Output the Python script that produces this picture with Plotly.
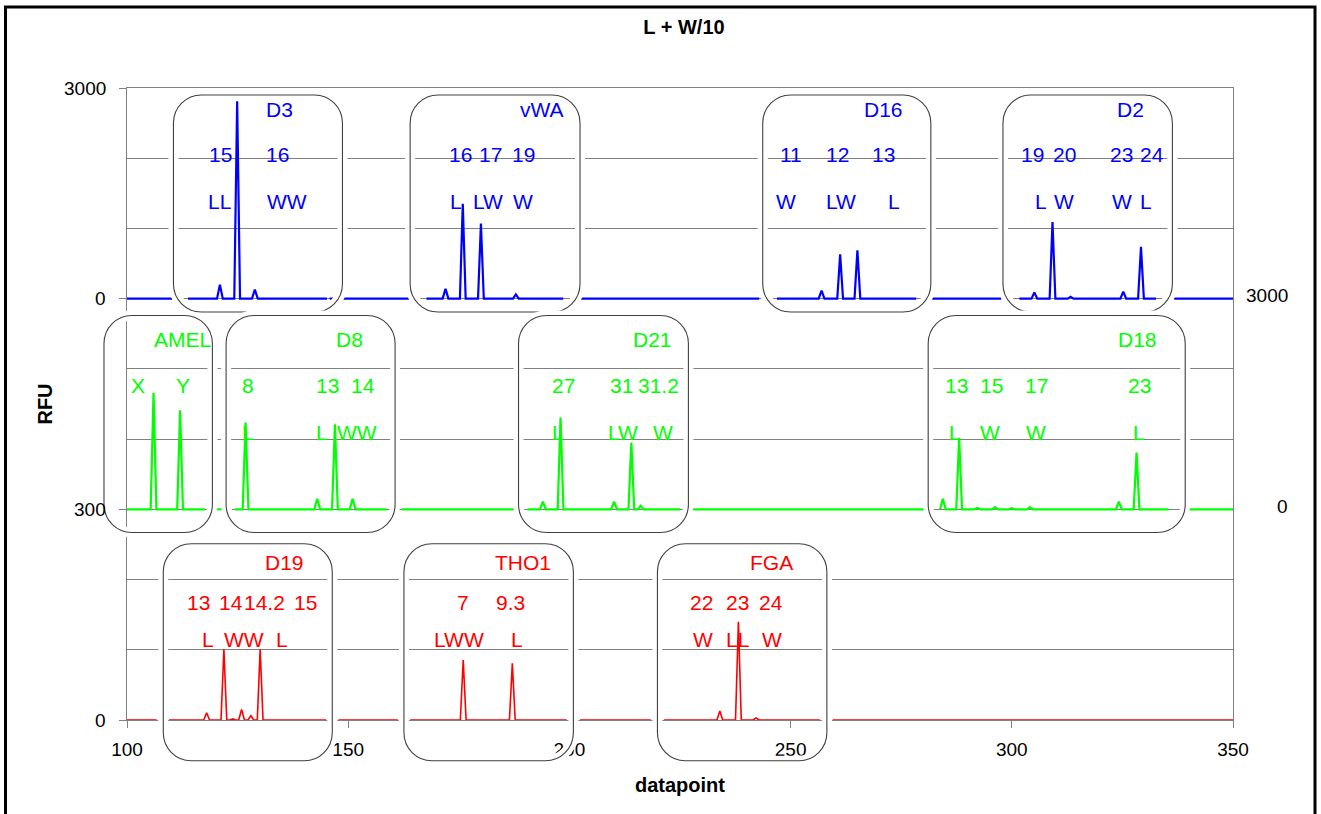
import plotly.graph_objects as go

# ---------------- data ----------------
# peak positions (datapoint) and heights (RFU) per dye lane
blue_peak_x = [121.0, 124.9, 128.9, 172.0, 175.9, 180.0, 187.9, 257.0, 261.2, 265.1,
               305.1, 309.2, 313.3, 325.2, 329.2]
blue_peak_h = [200, 2810, 130, 140, 1350, 1070, 60, 115, 630, 690,
               90, 1090, 25, 100, 740]

green_peak_x = [106.0, 112.0, 126.8, 143.0, 147.0, 151.0, 194.0, 198.0, 210.1, 214.0,
                216.1, 284.4, 288.1, 292.2, 296.2, 300.0, 304.1, 324.2, 328.2]
green_peak_h = [1660, 1410, 1235, 150, 1210, 150, 110, 1306, 110, 950,
                50, 150, 1020, 20, 30, 15, 30, 110, 807]

red_peak_x = [118.0, 121.9, 123.9, 125.9, 128.0, 130.1, 176.0, 187.1, 234.0, 238.2, 242.2]
red_peak_h = [10.4, 100.7, 1.5, 15, 6, 100.7, 85.4, 80.7, 12.8, 140, 3]

# visible trace segments (datapoint ranges) per lane
blue_segments = [(100, 110.2), (113.8, 145.2), (145.8, 163.9), (167.7, 198.6),
                 (202.4, 242.9), (246.9, 278.4), (282.0, 297.6), (301.7, 332.6), (336.7, 350)]
green_segments = [(100, 117.6), (119.3, 122.3), (124.4, 158.7), (162.1, 187.3),
                  (190.5, 225.0), (228.0, 280.4), (283.8, 335.4), (339.2, 350)]
red_segments = [(100, 106.7), (109.5, 145.0), (147.8, 161.2), (164.0, 199.4),
                (202.4, 218.4), (221.4, 256.6), (259.5, 350)]

# locus names
loci_blue = ["D3", "vWA", "D16", "D2"]
loci_green = ["AMEL", "D8", "D21", "D18"]
loci_red = ["D19", "THO1", "FGA"]

# labels: (text, datapoint)
blue_names = [("D3", 134.4), ("vWA", 193.7), ("D16", 271.1), ("D2", 326.8)]
blue_alleles = [("15", 121.2), ("16", 134.0), ("16", 175.3), ("17", 182.2), ("19", 189.7),
                ("11", 250.1), ("12", 260.6), ("13", 270.9),
                ("19", 304.6), ("20", 312.0), ("23", 324.8), ("24", 331.8)]
blue_calls = [("LL", 121.0), ("WW", 136.1), ("L", 174.4), ("LW", 181.7), ("W", 189.4),
              ("W", 248.9), ("LW", 261.4), ("L", 273.4),
              ("L", 306.6), ("W", 311.8), ("W", 324.8), ("L", 330.3)]

green_names = [("AMEL", 112.5), ("D8", 150.2), ("D21", 218.8), ("D18", 328.4)]
green_alleles = [("X", 102.4), ("Y", 112.6), ("8", 127.4), ("13", 145.4), ("14", 153.4),
                 ("27", 198.6), ("31", 211.8), ("31.2", 220.2),
                 ("13", 287.4), ("15", 295.5), ("17", 305.6), ("23", 328.8)]
green_calls = [("L", 127.4), ("L", 144.0), ("WW", 152.1),
               ("L", 197.5), ("LW", 212.2), ("W", 221.1),
               ("L", 287.2), ("W", 295.1), ("W", 305.5), ("L", 328.8)]

red_names = [("D19", 135.7), ("THO1", 189.6), ("FGA", 245.6)]
red_alleles = [("13", 116.1), ("14", 123.5), ("14.2", 131.0), ("15", 140.4),
               ("7", 176.0), ("9.3", 186.6),
               ("22", 229.9), ("23", 238.0), ("24", 245.5)]
red_calls = [("L", 118.2), ("WW", 126.5), ("L", 135.1),
             ("LWW", 175.1), ("L", 188.2),
             ("W", 230.1), ("LL", 238.0), ("W", 245.7)]

# left axis labels (value units, text); right axis labels
y_tick_vals = [0, 3, 6, 9]
y_tick_text = ["0", "300", "0", "3000"]
y_right_vals = [6, 3]
y_right_text = ["3000", "0"]
x_tick_vals = [100, 150, 200, 250, 300, 350]

# ---------------- layout constants ----------------
FONT = "Liberation Sans, Arial, sans-serif"
BLUE, GREEN, RED = "#0000FF", "#00FF00", "#FF0000"
W = 0.65  # half width of a peak in datapoints
XR = (100, 350)
YR = (0, 9)
ML, MR, MT, MB = 127, 88, 88, 94
FW, FH = 1321, 814
PW, PH = FW - ML - MR, FH - MT - MB

lanes = [
    dict(px=blue_peak_x, ph=blue_peak_h, seg=blue_segments, base=6, scale=1000, color=BLUE, width=2.2),
    dict(px=green_peak_x, ph=green_peak_h, seg=green_segments, base=3, scale=1000, color=GREEN, width=2.2),
    dict(px=red_peak_x, ph=red_peak_h, seg=red_segments, base=0, scale=100, color=RED, width=1.6),
]

# boxes: (x0, x1) datapoints, lane y extents (units)
box_x = {
    "D3": (110.5, 148.7), "vWA": (164.0, 202.4), "D16": (243.7, 281.7), "D2": (298.0, 336.3),
    "AMEL": (94.8, 119.3), "D8": (122.4, 160.6), "D21": (188.5, 226.9), "D18": (281.1, 339.2),
    "D19": (108.2, 146.4), "THO1": (162.6, 200.9), "FGA": (219.9, 258.2),
}
box_y = {"blue": (5.81, 8.90), "green": (2.67, 5.76), "red": (-0.58, 2.51)}

row_y = {
    "blue": (8.70, 8.05, 7.38),
    "green": (5.42, 4.76, 4.10),
    "red": (2.24, 1.67, 1.15),
}


def build(lane):
    xs, ys = [], []
    for a, b in lane["seg"]:
        xs.append(a)
        ys.append(lane["base"])
        for p, h in zip(lane["px"], lane["ph"]):
            if a <= p <= b:
                xs += [max(a, p - W), p, min(b, p + W)]
                ys += [lane["base"], lane["base"] + h / lane["scale"], lane["base"]]
        xs.append(b)
        ys.append(lane["base"])
        xs.append(None)
        ys.append(None)
    return xs, ys


fig = go.Figure()
for lane in lanes:
    xs, ys = build(lane)
    fig.add_trace(go.Scatter(x=xs, y=ys, mode="lines", cliponaxis=False,
                             line=dict(color=lane["color"], width=lane["width"]),
                             hoverinfo="skip", showlegend=False))


def xp(x):
    return (x - XR[0]) / (XR[1] - XR[0])


def yp(y):
    return (y - YR[0]) / (YR[1] - YR[0])


def rounded(x0, x1, y0, y1, r=28):
    X0, X1, Y0, Y1 = xp(x0), xp(x1), yp(y0), yp(y1)
    rx, ry = r / PW, r / PH
    k = 0.5523
    return (f"M{X0+rx},{Y1} L{X1-rx},{Y1} "
            f"C{X1-rx*(1-k)},{Y1} {X1},{Y1-ry*(1-k)} {X1},{Y1-ry} "
            f"L{X1},{Y0+ry} "
            f"C{X1},{Y0+ry*(1-k)} {X1-rx*(1-k)},{Y0} {X1-rx},{Y0} "
            f"L{X0+rx},{Y0} "
            f"C{X0+rx*(1-k)},{Y0} {X0},{Y0+ry*(1-k)} {X0},{Y0+ry} "
            f"L{X0},{Y1-ry} "
            f"C{X0},{Y1-ry*(1-k)} {X0+rx*(1-k)},{Y1} {X0+rx},{Y1} Z")


shapes = []
for lane_name, loci in (("blue", loci_blue), ("green", loci_green), ("red", loci_red)):
    y0, y1 = box_y[lane_name]
    for loc in loci:
        x0, x1 = box_x[loc]
        path = rounded(x0, x1, y0, y1)
        shapes.append(dict(type="path", path=path, xref="paper", yref="paper", layer="above",
                           line=dict(color="white", width=10)))
        shapes.append(dict(type="path", path=path, xref="paper", yref="paper", layer="above",
                           line=dict(color="#404040", width=1.1)))

# outer frame
shapes.append(dict(type="rect", xref="paper", yref="paper",
                   x0=(5.5 - ML) / PW, x1=(1315 - ML) / PW,
                   y0=(FH - MB - 830) / PH, y1=(FH - MB - 7) / PH,
                   line=dict(color="black", width=3), layer="above"))

annotations = []
for lane_name, color, names, alleles, calls in (
        ("blue", BLUE, blue_names, blue_alleles, blue_calls),
        ("green", GREEN, green_names, green_alleles, green_calls),
        ("red", RED, red_names, red_alleles, red_calls)):
    ry = row_y[lane_name]
    for row, items in zip(ry, (names, alleles, calls)):
        for txt, x in items:
            annotations.append(dict(x=x, y=row, xref="x", yref="y", text=txt, showarrow=False,
                                    xanchor="center", yanchor="middle",
                                    font=dict(family=FONT, size=21, color=color)))

# left tick labels drawn as text above the boxes (the AMEL box overlaps the axis)
for v, txt in zip(y_tick_vals, y_tick_text):
    annotations.append(dict(x=(108 - ML) / PW, y=v, xref="paper", yref="y", text=txt,
                            showarrow=False, xanchor="right", yanchor="middle",
                            font=dict(family=FONT, size=19, color="black")))
# right-hand labels
for v, txt in zip(y_right_vals, y_right_text):
    annotations.append(dict(x=(1290 - ML) / PW, y=v + 0.04, xref="paper", yref="y", text=txt,
                            showarrow=False, xanchor="right", yanchor="middle",
                            font=dict(family=FONT, size=19, color="black")))

fig.update_layout(
    width=FW, height=FH,
    margin=dict(l=ML, r=MR, t=MT, b=MB),
    paper_bgcolor="white", plot_bgcolor="white",
    title=dict(text="<b>L + W/10</b>", x=(684) / FW, xref="container", xanchor="center",
               y=1 - 27 / FH, yref="container", yanchor="middle",
               font=dict(family=FONT, size=20, color="black")),
    xaxis=dict(range=list(XR), tickvals=x_tick_vals, ticks="outside", ticklen=7,
               tickcolor="#808080", showline=True, linecolor="#808080", mirror=True,
               showgrid=False, zeroline=False, ticklabelstandoff=5,
               tickfont=dict(family=FONT, size=19, color="black"),
               title=dict(text="<b>datapoint</b>", standoff=19,
                          font=dict(family=FONT, size=20, color="black"))),
    yaxis=dict(range=list(YR), tickvals=y_tick_vals, ticktext=[" " * 6] * 4, ticks="outside",
               ticklen=7, tickcolor="#808080", showline=True, linecolor="#808080", mirror=True,
               showgrid=True, gridcolor="#808080", gridwidth=1, zeroline=False,
               ticklabelstandoff=8,
               minor=dict(dtick=1, tick0=0, showgrid=True, gridcolor="#808080", gridwidth=1,
                          ticks=""),
               tickfont=dict(family=FONT, size=19, color="black"),
               title=dict(text="<b>RFU</b>", standoff=17,
                          font=dict(family=FONT, size=20, color="black"))),
    shapes=shapes,
    annotations=annotations,
    hovermode=False,
)

fig.write_html("out.html", config={"displayModeBar": False},
               post_script="document.body.style.margin='0';document.body.style.overflow='hidden';")
